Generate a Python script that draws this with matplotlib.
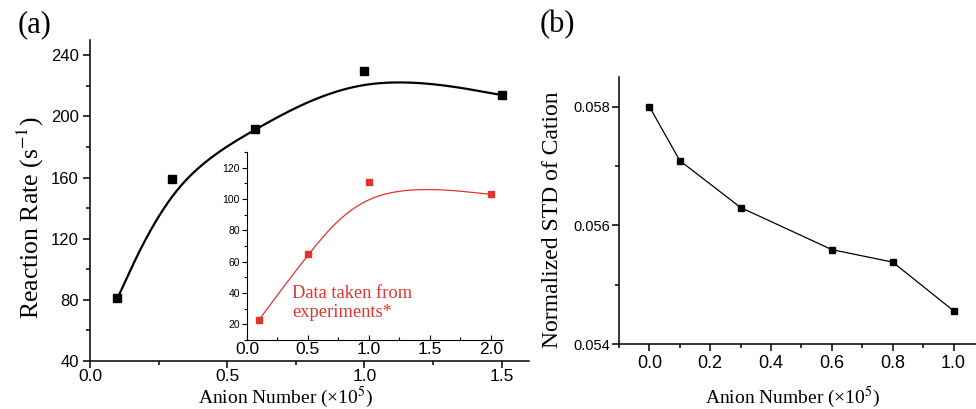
import numpy as np
import matplotlib
matplotlib.use("Agg")
import matplotlib.pyplot as plt
from matplotlib.ticker import MultipleLocator, FormatStrFormatter

plt.rcParams['font.family'] = ['Liberation Sans', 'DejaVu Sans']
plt.rcParams['mathtext.fontset'] = 'stix'
SERIF = ['Liberation Serif', 'DejaVu Serif']

# (a) simulated reaction rate vs anion number
anion_a = [0.1, 0.3, 0.6, 1.0, 1.5]
rate_a = [81, 159, 192, 230, 214]

# (a) inset: experimental reaction rate
anion_exp = [0.1, 0.5, 1.0, 2.0]
rate_exp = [23, 65, 111, 103]

# (b) normalized STD of cation
anion_b = [0.0, 0.1, 0.3, 0.6, 0.8, 1.0]
std_b = [0.0580, 0.05709, 0.05630, 0.05559, 0.05538, 0.05456]

RED = '#e0342c'
W, H = 976, 409


def bspline(px, py, n=60):
    """Uniform cubic B-spline; end points tripled so the curve hits them."""
    P = np.column_stack([px, py]).astype(float)
    Q = np.vstack([P[0], P[0], P, P[-1], P[-1]])
    s = np.linspace(0, 1, n)[:, None]
    b0 = (1 - s) ** 3 / 6
    b1 = (3 * s ** 3 - 6 * s ** 2 + 4) / 6
    b2 = (-3 * s ** 3 + 3 * s ** 2 + 3 * s + 1) / 6
    b3 = s ** 3 / 6
    segs = [b0 * Q[i] + b1 * Q[i + 1] + b2 * Q[i + 2] + b3 * Q[i + 3]
            for i in range(len(Q) - 3)]
    c = np.vstack(segs)
    return c[:, 0], c[:, 1]


def px_axes(left, top, right, bottom):
    return [left / W, 1 - bottom / H, (right - left) / W, (bottom - top) / H]


def style(ax, lw=1.1, xdir='out', ydir='out', maj=5, mnr=3):
    for s in ('top', 'right'):
        ax.spines[s].set_visible(False)
    for s in ('left', 'bottom'):
        ax.spines[s].set_linewidth(lw)
    ax.tick_params(axis='x', which='both', direction=xdir, width=lw)
    ax.tick_params(axis='y', which='both', direction=ydir, width=lw)
    ax.tick_params(which='major', length=maj)
    ax.tick_params(which='minor', length=mnr)


fig = plt.figure(figsize=(W / 100, H / 100), dpi=100)

# ---- panel (a)
ax = fig.add_axes(px_axes(90, 40, 529, 361))
cx, cy = bspline(anion_a, rate_a)
ax.plot(cx, cy, color='black', lw=1.6)
ax.plot(anion_a, rate_a, 's', color='black', ms=5.6)
ax.set_xlim(0, 1.6)
ax.set_ylim(40, 250)
ax.xaxis.set_major_locator(MultipleLocator(0.5))
ax.xaxis.set_minor_locator(MultipleLocator(0.25))
ax.yaxis.set_major_locator(MultipleLocator(40))
ax.yaxis.set_minor_locator(MultipleLocator(20))
ax.xaxis.set_major_formatter(FormatStrFormatter('%.1f'))
style(ax, maj=5, mnr=3)
ax.tick_params(axis='x', labelsize=12.5, pad=1)
ax.tick_params(axis='y', labelsize=12, pad=3)
ax.patch.set_alpha(0)

# inset with experimental data
axi = fig.add_axes(px_axes(247, 152, 503, 340))
ix, iy = bspline(anion_exp, rate_exp)
axi.plot(ix, iy, color=RED, lw=0.9)
axi.plot(anion_exp, rate_exp, 's', color=RED, ms=3.8)
axi.set_xlim(0, 2.1)
axi.set_ylim(10, 130)
axi.xaxis.set_major_locator(MultipleLocator(0.5))
axi.xaxis.set_minor_locator(MultipleLocator(0.25))
axi.yaxis.set_major_locator(MultipleLocator(20))
axi.yaxis.set_minor_locator(MultipleLocator(10))
axi.xaxis.set_major_formatter(FormatStrFormatter('%.1f'))
style(axi, lw=0.8, xdir='in', maj=3.5, mnr=2)
axi.tick_params(axis='x', labelsize=12.5, pad=1.5)
axi.tick_params(axis='y', labelsize=7.5, pad=1.5)
axi.patch.set_alpha(0)
axi.text(0.176, 0.29, 'Data taken from\nexperiments*', transform=axi.transAxes,
         color=RED, fontsize=13.3, family=SERIF, ha='left', va='top',
         linespacing=1.15)

fig.text(30 / W, 1 - 218 / H, 'Reaction Rate (s$^{-1}$)', rotation=90,
         ha='center', va='center', fontsize=18.5, family=SERIF)
fig.text(286 / W, 1 - 397.5 / H, 'Anion Number (×10$^5$)',
         ha='center', va='center', fontsize=14, family=SERIF)
fig.text(18 / W, 1 - 10 / H, '(a)', ha='left', va='top', fontsize=22,
         family=SERIF)

# ---- panel (b)
axb = fig.add_axes(px_axes(619, 77, 984, 344))
axb.plot(anion_b, std_b, '-s', color='black', lw=0.9, ms=5)
axb.set_xlim(-0.1, 1.1)
axb.set_ylim(0.054, 0.0585)
axb.xaxis.set_major_locator(MultipleLocator(0.2))
axb.xaxis.set_minor_locator(MultipleLocator(0.1))
axb.yaxis.set_major_locator(MultipleLocator(0.002))
axb.yaxis.set_minor_locator(MultipleLocator(0.001))
axb.xaxis.set_major_formatter(FormatStrFormatter('%.1f'))
axb.yaxis.set_major_formatter(FormatStrFormatter('%.3f'))
style(axb, maj=5, mnr=3)
axb.tick_params(axis='x', labelsize=13, pad=3)
axb.tick_params(axis='y', labelsize=10.5, pad=1.5)

fig.text(553 / W, 1 - 220 / H, 'Normalized STD of Cation', rotation=90,
         ha='center', va='center', fontsize=17, family=SERIF)
fig.text(793 / W, 1 - 397 / H, 'Anion Number (×10$^5$)',
         ha='center', va='center', fontsize=14, family=SERIF)
fig.text(540 / W, 1 - 10 / H, '(b)', ha='left', va='top', fontsize=22,
         family=SERIF)

fig.savefig('out.png', dpi=100)
